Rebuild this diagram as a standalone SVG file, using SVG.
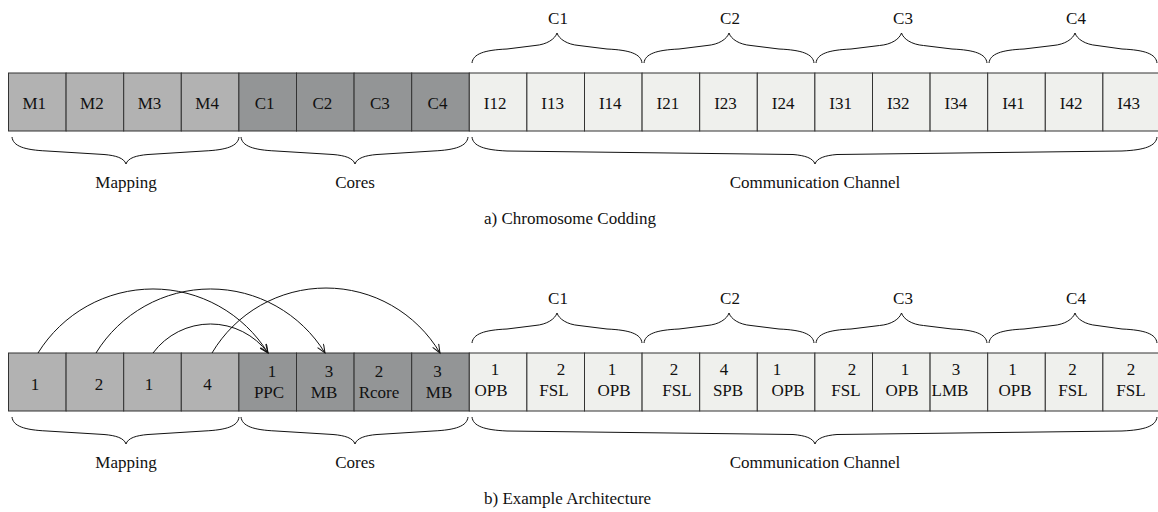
<svg xmlns="http://www.w3.org/2000/svg" xmlns:xlink="http://www.w3.org/1999/xlink" width="1158" height="512" viewBox="0 0 1158 512">
  <style>
    text { font-family: "Liberation Serif", "Times New Roman", serif; font-size: 17px; fill: #111; text-anchor: middle; }
    .cap { text-anchor: start; }
    .map { fill: #b2b2b2; stroke: #333; stroke-width: 1; }
    .core { fill: #939596; stroke: #333; stroke-width: 1; }
    .chan { fill: #eff0ed; stroke: #333; stroke-width: 1; }
    .brace { fill: none; stroke: #111; stroke-width: 1; }
    .arc { fill: none; stroke: #111; stroke-width: 1; marker-end: url(#arrow); }
  </style>
  <defs>
    <marker id="arrow" markerUnits="userSpaceOnUse" markerWidth="12" markerHeight="10" refX="9" refY="4" orient="auto">
      <path d="M0.5,0.5 L9,4 L0.5,7.5" fill="none" stroke="#111" stroke-width="1"/>
    </marker>
    <!-- braces and their labels, shared by both rows -->
    <g id="brace-set">
      <path class="brace" d="M12,137 C13,146 24,150 47,151 L104,154.5 C116,155.5 124,158 126,164 C128,158 136,155.5 148,154.5 L204,151 C227,150 238,146 239,137"/>
      <path class="brace" d="M241,137 C242,146 253,150 276,151 L333,154.5 C345,155.5 353,158 355,164 C357,158 365,155.5 377,154.5 L433,151 C456,150 467,146 468,137"/>
      <path class="brace" d="M472,137 C473,146 484,150 507,151 L793,154.5 C805,155.5 813,158 815,164 C817,158 825,155.5 837,154.5 L1122,151 C1145,150 1156,146 1157,137"/>
      <path class="brace" d="M472,63 C473,54 484,50 507,49 L535,45.5 C547,44.5 555,39 557,33 C559,39 567,44.5 579,45.5 L607,49 C630,50 641,54 642,63"/>
      <path class="brace" d="M644,63 C645,54 656,50 679,49 L707,45.5 C719,44.5 727,39 729,33 C731,39 739,44.5 751,45.5 L779,49 C802,50 813,54 814,63"/>
      <path class="brace" d="M816,63 C817,54 828,50 851,49 L879.5,45.5 C891.5,44.5 899.5,39 901.5,33 C903.5,39 911.5,44.5 923.5,45.5 L952,49 C975,50 986,54 987,63"/>
      <path class="brace" d="M989,63 C990,54 1001,50 1024,49 L1053,45.5 C1065,44.5 1073,39 1075,33 C1077,39 1085,44.5 1097,45.5 L1122,49 C1145,50 1156,54 1157,63"/>
      <text x="126" y="188">Mapping</text>
      <text x="355" y="188">Cores</text>
      <text x="815" y="188">Communication Channel</text>
      <text x="558" y="24">C1</text>
      <text x="730" y="24">C2</text>
      <text x="903" y="24">C3</text>
      <text x="1076" y="24">C4</text>
    </g>
  </defs>

  <!-- a) chromosome coding -->
  <use xlink:href="#brace-set" href="#brace-set"/>
  <g id="row-a">
    <g id="a-m1"><rect class="map" x="8.5" y="73" width="57.6" height="58"/><text x="34.3" y="109">M1</text></g>
    <g id="a-m2"><rect class="map" x="66.1" y="73" width="57.6" height="58"/><text x="91.9" y="109">M2</text></g>
    <g id="a-m3"><rect class="map" x="123.7" y="73" width="57.6" height="58"/><text x="149.5" y="109">M3</text></g>
    <g id="a-m4"><rect class="map" x="181.3" y="73" width="57.6" height="58"/><text x="207.1" y="109">M4</text></g>
    <g id="a-c1"><rect class="core" x="238.9" y="73" width="57.6" height="58"/><text x="264.7" y="109">C1</text></g>
    <g id="a-c2"><rect class="core" x="296.5" y="73" width="57.6" height="58"/><text x="322.3" y="109">C2</text></g>
    <g id="a-c3"><rect class="core" x="354.1" y="73" width="57.6" height="58"/><text x="379.9" y="109">C3</text></g>
    <g id="a-c4"><rect class="core" x="411.7" y="73" width="57.6" height="58"/><text x="437.5" y="109">C4</text></g>
    <g id="a-i12"><rect class="chan" x="469.3" y="73" width="57.6" height="58"/><text x="495.1" y="109">I12</text></g>
    <g id="a-i13"><rect class="chan" x="526.9" y="73" width="57.6" height="58"/><text x="552.7" y="109">I13</text></g>
    <g id="a-i14"><rect class="chan" x="584.5" y="73" width="57.6" height="58"/><text x="610.3" y="109">I14</text></g>
    <g id="a-i21"><rect class="chan" x="642.1" y="73" width="57.6" height="58"/><text x="667.9" y="109">I21</text></g>
    <g id="a-i23"><rect class="chan" x="699.7" y="73" width="57.6" height="58"/><text x="725.5" y="109">I23</text></g>
    <g id="a-i24"><rect class="chan" x="757.3" y="73" width="57.6" height="58"/><text x="783.1" y="109">I24</text></g>
    <g id="a-i31"><rect class="chan" x="814.9" y="73" width="57.6" height="58"/><text x="840.7" y="109">I31</text></g>
    <g id="a-i32"><rect class="chan" x="872.5" y="73" width="57.6" height="58"/><text x="898.3" y="109">I32</text></g>
    <g id="a-i34"><rect class="chan" x="930.1" y="73" width="57.6" height="58"/><text x="955.9" y="109">I34</text></g>
    <g id="a-i41"><rect class="chan" x="987.7" y="73" width="57.6" height="58"/><text x="1013.5" y="109">I41</text></g>
    <g id="a-i42"><rect class="chan" x="1045.3" y="73" width="57.6" height="58"/><text x="1071.1" y="109">I42</text></g>
    <g id="a-i43"><rect class="chan" x="1102.9" y="73" width="57.6" height="58"/><text x="1128.7" y="109">I43</text></g>
  </g>
  <text class="cap" x="484" y="224">a) Chromosome Codding</text>

  <!-- b) example architecture -->
  <use xlink:href="#brace-set" href="#brace-set" transform="translate(0,280)"/>
  <g id="row-b">
    <g id="b-m1"><rect class="map" x="8.5" y="353" width="57.6" height="58"/><text x="35" y="390">1</text></g>
    <g id="b-m2"><rect class="map" x="66.1" y="353" width="57.6" height="58"/><text x="99" y="390">2</text></g>
    <g id="b-m3"><rect class="map" x="123.7" y="353" width="57.6" height="58"/><text x="149" y="390">1</text></g>
    <g id="b-m4"><rect class="map" x="181.3" y="353" width="57.6" height="58"/><text x="207.5" y="390">4</text></g>
    <g id="b-c1"><rect class="core" x="238.9" y="353" width="57.6" height="58"/><text x="272" y="377">1</text><text x="269" y="398">PPC</text></g>
    <g id="b-c2"><rect class="core" x="296.5" y="353" width="57.6" height="58"/><text x="329" y="377">3</text><text x="324" y="398">MB</text></g>
    <g id="b-c3"><rect class="core" x="354.1" y="353" width="57.6" height="58"/><text x="379" y="377">2</text><text x="379" y="398">Rcore</text></g>
    <g id="b-c4"><rect class="core" x="411.7" y="353" width="57.6" height="58"/><text x="437.5" y="377">3</text><text x="439" y="398">MB</text></g>
    <g id="b-i12"><rect class="chan" x="469.3" y="353" width="57.6" height="58"/><text x="495" y="375">1</text><text x="491" y="396">OPB</text></g>
    <g id="b-i13"><rect class="chan" x="526.9" y="353" width="57.6" height="58"/><text x="561" y="375">2</text><text x="554" y="396">FSL</text></g>
    <g id="b-i14"><rect class="chan" x="584.5" y="353" width="57.6" height="58"/><text x="612" y="375">1</text><text x="614" y="396">OPB</text></g>
    <g id="b-i21"><rect class="chan" x="642.1" y="353" width="57.6" height="58"/><text x="674" y="375">2</text><text x="677" y="396">FSL</text></g>
    <g id="b-i23"><rect class="chan" x="699.7" y="353" width="57.6" height="58"/><text x="724" y="375">4</text><text x="728" y="396">SPB</text></g>
    <g id="b-i24"><rect class="chan" x="757.3" y="353" width="57.6" height="58"/><text x="777" y="375">1</text><text x="788" y="396">OPB</text></g>
    <g id="b-i31"><rect class="chan" x="814.9" y="353" width="57.6" height="58"/><text x="852" y="375">2</text><text x="846" y="396">FSL</text></g>
    <g id="b-i32"><rect class="chan" x="872.5" y="353" width="57.6" height="58"/><text x="905" y="375">1</text><text x="902" y="396">OPB</text></g>
    <g id="b-i34"><rect class="chan" x="930.1" y="353" width="57.6" height="58"/><text x="956" y="375">3</text><text x="950" y="396">LMB</text></g>
    <g id="b-i41"><rect class="chan" x="987.7" y="353" width="57.6" height="58"/><text x="1012.5" y="375">1</text><text x="1015" y="396">OPB</text></g>
    <g id="b-i42"><rect class="chan" x="1045.3" y="353" width="57.6" height="58"/><text x="1072.5" y="375">2</text><text x="1073" y="396">FSL</text></g>
    <g id="b-i43"><rect class="chan" x="1102.9" y="353" width="57.6" height="58"/><text x="1131" y="375">2</text><text x="1131" y="396">FSL</text></g>
  </g>
  <g id="connectors">
    <path class="arc" d="M38,353 A135.3,135.3 0 0 1 268,353"/>
    <path class="arc" d="M96,353 A134.4,134.4 0 0 1 325,353"/>
    <path class="arc" d="M153,353 A71.5,71.5 0 0 1 268,353"/>
    <path class="arc" d="M212,353 A132.5,132.5 0 0 1 440,353"/>
  </g>
  <text class="cap" x="484" y="504">b) Example Architecture</text>
</svg>
